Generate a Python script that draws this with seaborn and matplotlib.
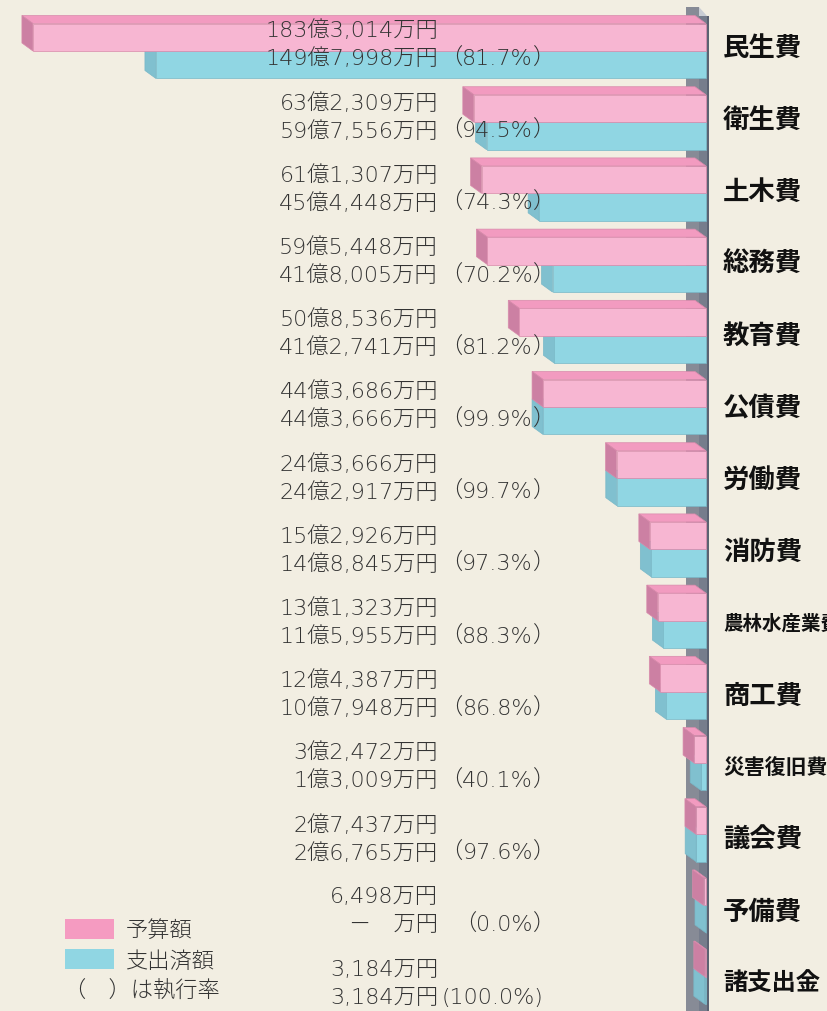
import numpy as np
import pandas as pd
import seaborn as sns
import matplotlib.pyplot as plt
from matplotlib.patches import Polygon, Rectangle

# ---------------- data ----------------
categories = ["民生費", "衛生費", "土木費", "総務費", "教育費", "公債費", "労働費",
              "消防費", "農林水産業費", "商工費", "災害復旧費", "議会費", "予備費", "諸支出金"]
budget_man = [1833014, 632309, 611307, 595448, 508536, 443686, 243666,
              152926, 131323, 124387, 32472, 27437, 6498, 3184]      # 予算額 (万円)
spent_man = [1497998, 597556, 454448, 418005, 412741, 443666, 242917,
             148845, 115955, 107948, 13009, 26765, 0, 3184]          # 支出済額 (万円)
rates = [81.7, 94.5, 74.3, 70.2, 81.2, 99.9, 99.7, 97.3, 88.3, 86.8, 40.1, 97.6, 0.0, 100.0]
series_names = ["予算額", "支出済額"]
legend_note = "（　）は執行率"

# ---------------- style ----------------
W, H = 827, 1012
BG = "#f2eee2"
PINK_FRONT, PINK_TOP, PINK_SIDE, PINK_EDGE = "#f7b6d2", "#f29bc0", "#cc80a3", "#d88aab"
BLUE_FRONT, BLUE_TOP, BLUE_SIDE, BLUE_EDGE = "#90d6e3", "#9fdbe6", "#80c0cf", "#78b8c8"
LEG_PINK, LEG_BLUE = "#f59bc1", "#90d6e3"

sns.set_theme(style="white")
plt.rcParams["font.family"] = ["Noto Sans CJK JP", "DejaVu Sans"]

fig = plt.figure(figsize=(W / 100, H / 100), dpi=100)
fig.patch.set_facecolor(BG)
ax = fig.add_axes([0, 0, 1, 1])

df = pd.DataFrame({
    "cat": categories * 2,
    "val": [v / 10000 for v in budget_man] + [v / 10000 for v in spent_man],
    "series": [series_names[0]] * len(categories) + [series_names[1]] * len(categories),
})
sns.barplot(data=df, y="cat", x="val", hue="series", hue_order=series_names,
            palette=[PINK_FRONT, BLUE_FRONT], orient="h", width=0.772,
            saturation=1, legend=False, errorbar=None, ax=ax)

# pixel <-> data mapping
SCALE = 3.672     # px per 億円
X0PX = 706        # pixel of value 0
ROW = 71.2        # px per category
Y0PX = 52         # pixel of category 0 centre
ax.set_xlim(X0PX / SCALE, -(W - X0PX) / SCALE)
ax.set_ylim((H - Y0PX) / ROW, -Y0PX / ROW)
ax.axis("off")


def xd(px):
    return (X0PX - px) / SCALE


def yd(py):
    return (py - Y0PX) / ROW


DX = 11 / SCALE
DY = 8 / ROW

# ---------------- vertical axis column ----------------
ax.add_patch(Polygon([(xd(686), yd(8)), (xd(699), yd(8)), (xd(699), yd(H + 5)), (xd(686), yd(H + 5))],
                     closed=True, facecolor="#878b96", edgecolor="none", zorder=1))
ax.add_patch(Polygon([(xd(699), yd(17)), (xd(707), yd(17)), (xd(707), yd(H + 5)), (xd(699), yd(H + 5))],
                     closed=True, facecolor="#767d8c", edgecolor="none", zorder=1))
ax.add_patch(Polygon([(xd(699), yd(8)), (xd(707), yd(17)), (xd(699), yd(17))],
                     closed=True, facecolor="#c9cdd4", edgecolor="none", zorder=1))
ax.add_patch(Polygon([(xd(706.5), yd(17)), (xd(709), yd(17)), (xd(709), yd(H + 5)), (xd(706.5), yd(H + 5))],
                     closed=True, facecolor="#5b6272", edgecolor="none", zorder=1))

# ---------------- pseudo-3D faces ----------------
face_sets = [(PINK_TOP, PINK_SIDE, PINK_EDGE, 5), (BLUE_TOP, BLUE_SIDE, BLUE_EDGE, 3)]
for k, cont in enumerate(ax.containers):
    top_c, side_c, edge_c, z = face_sets[k]
    for bar in cont:
        x, y, w, h = bar.get_x(), bar.get_y(), bar.get_width(), bar.get_height()
        L, R = max(x, x + w), min(x, x + w)
        T, B = min(y, y + h), max(y, y + h)
        ax.add_patch(Polygon([(L, T), (R, T), (R + DX, T - DY), (L + DX, T - DY)], closed=True,
                             facecolor=top_c, edgecolor=edge_c, linewidth=0.5, zorder=z))
        ax.add_patch(Polygon([(L, T), (L, B), (L + DX, B - DY), (L + DX, T - DY)], closed=True,
                             facecolor=side_c, edgecolor=edge_c, linewidth=0.5, zorder=z))
        bar.set_edgecolor(edge_c)
        bar.set_linewidth(0.5)
        bar.set_zorder(z + 1)


# ---------------- text ----------------
def fmt_amount(v):
    if v == 0:
        return "－　万円"
    oku, man = divmod(v, 10000)
    if oku > 0:
        return f"{oku}億{man:,}万円"
    return f"{man:,}万円"


VAL_FONT = dict(family=["DejaVu Sans", "Noto Sans CJK JP"], weight="light", fontsize=16, color="#333333")
PAREN_FONT = dict(family=["Noto Sans CJK JP", "DejaVu Sans"], weight="light", fontsize=16, color="#333333")
LABEL_SIZE = {3: 19, 4: 17.5, 5: 15, 6: 14}
for i, cat in enumerate(categories):
    y1 = yd(31 + 72.2 * i)
    y2 = yd(59 + 72.2 * i)
    ax.text(xd(438), y1, fmt_amount(budget_man[i]), ha="right", va="center", zorder=10, **VAL_FONT)
    ax.text(xd(438), y2, fmt_amount(spent_man[i]), ha="right", va="center", zorder=10, **VAL_FONT)
    r = rates[i]
    if r >= 100:
        ax.text(xd(543), y2, f"({r:.1f}%)", ha="right", va="center", zorder=10, **VAL_FONT)
    else:
        num = ax.text(xd(533), y2, f"{r:.1f}%", ha="right", va="center", zorder=10, **VAL_FONT)
        ax.annotate("（", xy=(0, 0.5), xycoords=num, ha="right", va="center", zorder=10, **PAREN_FONT)
        ax.annotate("）", xy=(1, 0.5), xycoords=num, ha="left", va="center", zorder=10, **PAREN_FONT)
    ax.text(xd(723), yd(48 + 72 * i), cat, ha="left", va="center",
            fontsize=LABEL_SIZE.get(len(cat), 14),
            fontweight="bold", color="#111111", family=["Noto Sans CJK JP", "DejaVu Sans"], zorder=10)

# ---------------- legend ----------------
for (ytop, col, name) in [(920, LEG_PINK, series_names[0]), (950, LEG_BLUE, series_names[1])]:
    fig.add_artist(Rectangle((65 / W, 1 - (ytop + 20) / H), 49 / W, 20 / H,
                             transform=fig.transFigure, facecolor=col, edgecolor="none"))
    fig.text(126 / W, 1 - (ytop + 11) / H, name, ha="left", va="center", **VAL_FONT)
fig.text(64 / W, 1 - 991 / H, legend_note, ha="left", va="center", **VAL_FONT)

fig.savefig("out.png", dpi=100, facecolor=BG)
